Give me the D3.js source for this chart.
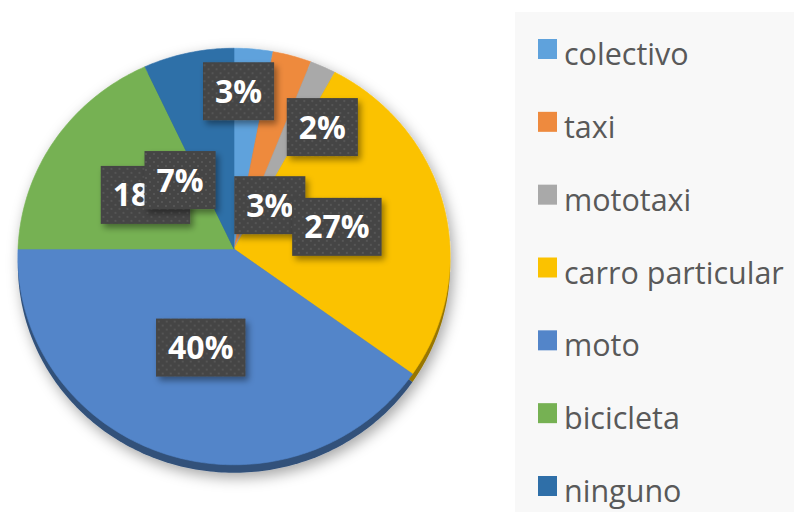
<!DOCTYPE html>
<html>
<head>
<meta charset="utf-8">
<script src="https://cdn.jsdelivr.net/npm/d3@7"></script>
<style>
  html, body { margin: 0; padding: 0; background: #fff; }
  svg { display: block; }
</style>
</head>
<body>
<svg id="chart" width="794" height="512"></svg>
<script>
const categories = ['colectivo', 'taxi', 'mototaxi', 'carro particular', 'moto', 'bicicleta', 'ninguno'];
const shares = [3, 3, 2, 27, 40, 18, 7];
const colors = ['#5fa2dc', '#ee8a3e', '#a9a9a9', '#fbc200', '#5385c9', '#76b153', '#2f6fa8'];

// Excel "best fit" put a few labels away from the slice middle (angle shift in deg, radius fraction)
const labelPlacement = {
    'colectivo': { shift: -3.8, r: 0.78 },
    'taxi': { shift: 22, r: 0.27 },
    'mototaxi': { shift: 9.7, r: 0.73 },
    'ninguno': { shift: -24.4, r: 0.42 }
};

function drawPie(svg) {
    const cx = 234, cy = 249;
    const rx = 216, ry = 208;
    const k = 0.036;   // slight perspective tilt
    const depth = 8;

    // point on the tilted disc: angle clockwise from top, r in [0,1]
    const project = (a, r) => {
        const u = r * Math.sin(a), v = r * Math.cos(a);
        const den = 1 + k * v;
        return [cx + rx * u / den, cy - ry * v / den];
    };

    const defs = svg.append('defs');

    const shadow = defs.append('filter').attr('id', 'pieShadow')
        .attr('x', '-20%').attr('y', '-20%').attr('width', '140%').attr('height', '140%');
    shadow.append('feDropShadow')
        .attr('dx', 3).attr('dy', 5).attr('stdDeviation', 7)
        .attr('flood-color', '#000').attr('flood-opacity', 0.35);

    const boxShadow = defs.append('filter').attr('id', 'boxShadow')
        .attr('x', '-30%').attr('y', '-30%').attr('width', '160%').attr('height', '160%');
    boxShadow.append('feDropShadow')
        .attr('dx', 3).attr('dy', 4).attr('stdDeviation', 3)
        .attr('flood-color', '#000').attr('flood-opacity', 0.4);

    const dots = defs.append('pattern').attr('id', 'dots')
        .attr('patternUnits', 'userSpaceOnUse').attr('width', 8).attr('height', 8);
    dots.append('rect').attr('width', 8).attr('height', 8).attr('fill', '#444');
    dots.append('circle').attr('cx', 2).attr('cy', 2).attr('r', 0.9).attr('fill', '#5d5d5d');
    dots.append('circle').attr('cx', 6).attr('cy', 6).attr('r', 0.9).attr('fill', '#5d5d5d');

    const pie = d3.pie().sort(null).value(d => d.value);
    const arcs = pie(categories.map((c, i) => ({ name: c, value: shares[i], color: colors[i] })));

    const line = d3.line();
    const slicePath = (d, dy) => {
        const n = Math.max(4, Math.ceil((d.endAngle - d.startAngle) * 60));
        const pts = [project(0, 0)];
        for (let j = 0; j <= n; j++) {
            pts.push(project(d.startAngle + (d.endAngle - d.startAngle) * j / n, 1));
        }
        return line(pts.map(p => [p[0], p[1] + dy])) + 'Z';
    };

    const g = svg.append('g').attr('filter', 'url(#pieShadow)');

    // side wall of the 3D disc
    g.selectAll('path.side')
        .data(arcs)
        .enter()
        .append('path')
        .attr('class', 'side')
        .attr('d', d => slicePath(d, depth))
        .style('fill', d => d3.color(d.data.color).darker(1.4));

    g.selectAll('path.slice')
        .data(arcs)
        .enter()
        .append('path')
        .attr('class', 'slice')
        .attr('d', d => slicePath(d, 0))
        .style('fill', d => d.data.color)
        .style('stroke', d => d.data.color)
        .style('stroke-width', 0.6);

    // data labels
    const labels = svg.selectAll('g.label')
        .data(arcs)
        .enter()
        .append('g')
        .attr('class', 'label')
        .attr('transform', d => {
            const p = labelPlacement[d.data.name] || { shift: 0, r: 0.49 };
            const mid = (d.startAngle + d.endAngle) / 2 + p.shift * Math.PI / 180;
            const [x, y] = project(mid, p.r);
            return `translate(${x},${y})`;
        });

    const rects = labels.append('rect')
        .attr('fill', 'url(#dots)')
        .attr('filter', 'url(#boxShadow)');

    const texts = labels.append('text')
        .attr('text-anchor', 'middle')
        .attr('dy', 11.5)
        .style('font-family', '"Open Sans", sans-serif')
        .style('font-weight', 700)
        .style('font-size', '32px')
        .style('fill', '#fff')
        .text(d => d.data.value + '%');

    texts.each(function () {
        const w = this.getComputedTextLength();
        d3.select(this.previousSibling)
            .attr('x', -w / 2 - 12)
            .attr('y', -29)
            .attr('width', w + 24)
            .attr('height', 58);
    });
}

function drawLegend(svg) {
    svg.append('rect')
        .attr('x', 515).attr('y', 12)
        .attr('width', 290).attr('height', 510)
        .attr('fill', '#f8f8f8');

    const y = d3.scalePoint().domain(categories).range([65, 502]);

    const items = svg.selectAll('g.legend-item')
        .data(categories)
        .enter()
        .append('g')
        .attr('class', 'legend-item')
        .attr('transform', d => `translate(538,${y(d)})`);

    items.append('rect')
        .attr('x', 0).attr('y', -26)
        .attr('width', 19).attr('height', 20)
        .style('fill', (d, i) => colors[i]);

    items.append('text')
        .attr('x', 26)
        .style('font-family', '"Open Sans", sans-serif')
        .style('font-size', '30.5px')
        .style('fill', '#595959')
        .text(d => d);
}

const svg = d3.select('#chart');
drawLegend(svg);
drawPie(svg);
</script>
</body>
</html>
